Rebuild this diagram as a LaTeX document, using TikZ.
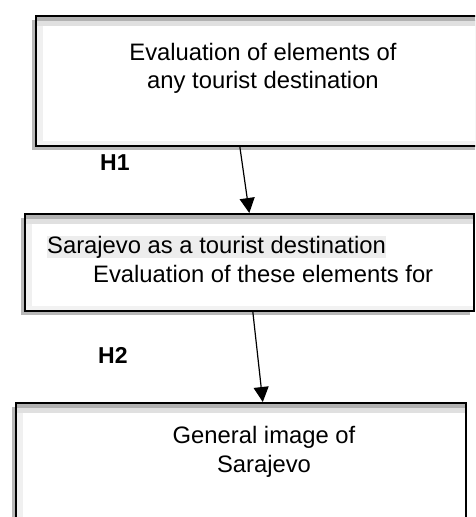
\documentclass[tikz,border=0pt]{standalone}
\usepackage{fontspec}
\setmainfont{Liberation Sans}
\usetikzlibrary{positioning, arrows.meta, shadows}

\tikzset{
  stage/.style = {draw, line width=1.6pt, fill=white, inner sep=0pt, anchor=north west,
    drop shadow={shadow xshift=-4pt, shadow yshift=-4pt, fill=black!28, opacity=1},
    path picture={
      \fill[black!30] (path picture bounding box.north west) rectangle ([yshift=-5pt]path picture bounding box.north east);
      \fill[black!12] ([yshift=-5pt]path picture bounding box.north west) rectangle ([yshift=-10pt]path picture bounding box.north east);
      \fill[black!6] ([yshift=-10pt]path picture bounding box.north west) rectangle ([xshift=7pt]path picture bounding box.south west);
      \fill[black!5] (path picture bounding box.south west) rectangle ([yshift=5pt]path picture bounding box.south east);
    }},
  boxtext/.style = {font=\fontsize{23.8}{28}\selectfont, inner sep=0pt},
  hyp/.style = {font=\fontsize{23}{28}\selectfont\bfseries, inner sep=0pt, anchor=base west},
  flow/.style = {line width=1.2pt, -{Triangle[width=15pt,length=15pt]}}
}

\begin{document}
\begin{tikzpicture}[x=1pt, y=-1pt]
  \clip (0,0) rectangle (475,517);

  % Boxes
  \node[stage, minimum width=450pt, minimum height=130pt] (elements) at (35,15) {};
  \node[stage, minimum width=449pt, minimum height=97pt] (sarajevo) at (24,213) {};
  \node[stage, minimum width=450pt, minimum height=130pt] (image) at (15,402) {};

  % Texts
  \node[boxtext, anchor=base] (elemA) at (263,60) {Evaluation of elements of};
  \node[boxtext, anchor=base] (elemB) at (263,88) {any tourist destination};
  \node[boxtext, anchor=base west, fill=black!7] (saraA) at (47,253) {Sarajevo as a tourist destination};
  \node[boxtext, anchor=base west] (saraB) at (93,282) {Evaluation of these elements for};
  \node[boxtext, anchor=base] (imgA) at (264,443) {General image of};
  \node[boxtext, anchor=base] (imgB) at (264,472) {Sarajevo};

  % Hypotheses
  \node[hyp] (h1) at (100,170) {H1};
  \node[hyp] (h2) at (98,363) {H2};

  % Arrows
  \draw[flow] ([xshift=-21pt]elements.south) -- (sarajevo.north);
  \draw[flow] ([xshift=3.5pt]sarajevo.south) -- ([xshift=22pt]image.north);
\end{tikzpicture}
\end{document}
